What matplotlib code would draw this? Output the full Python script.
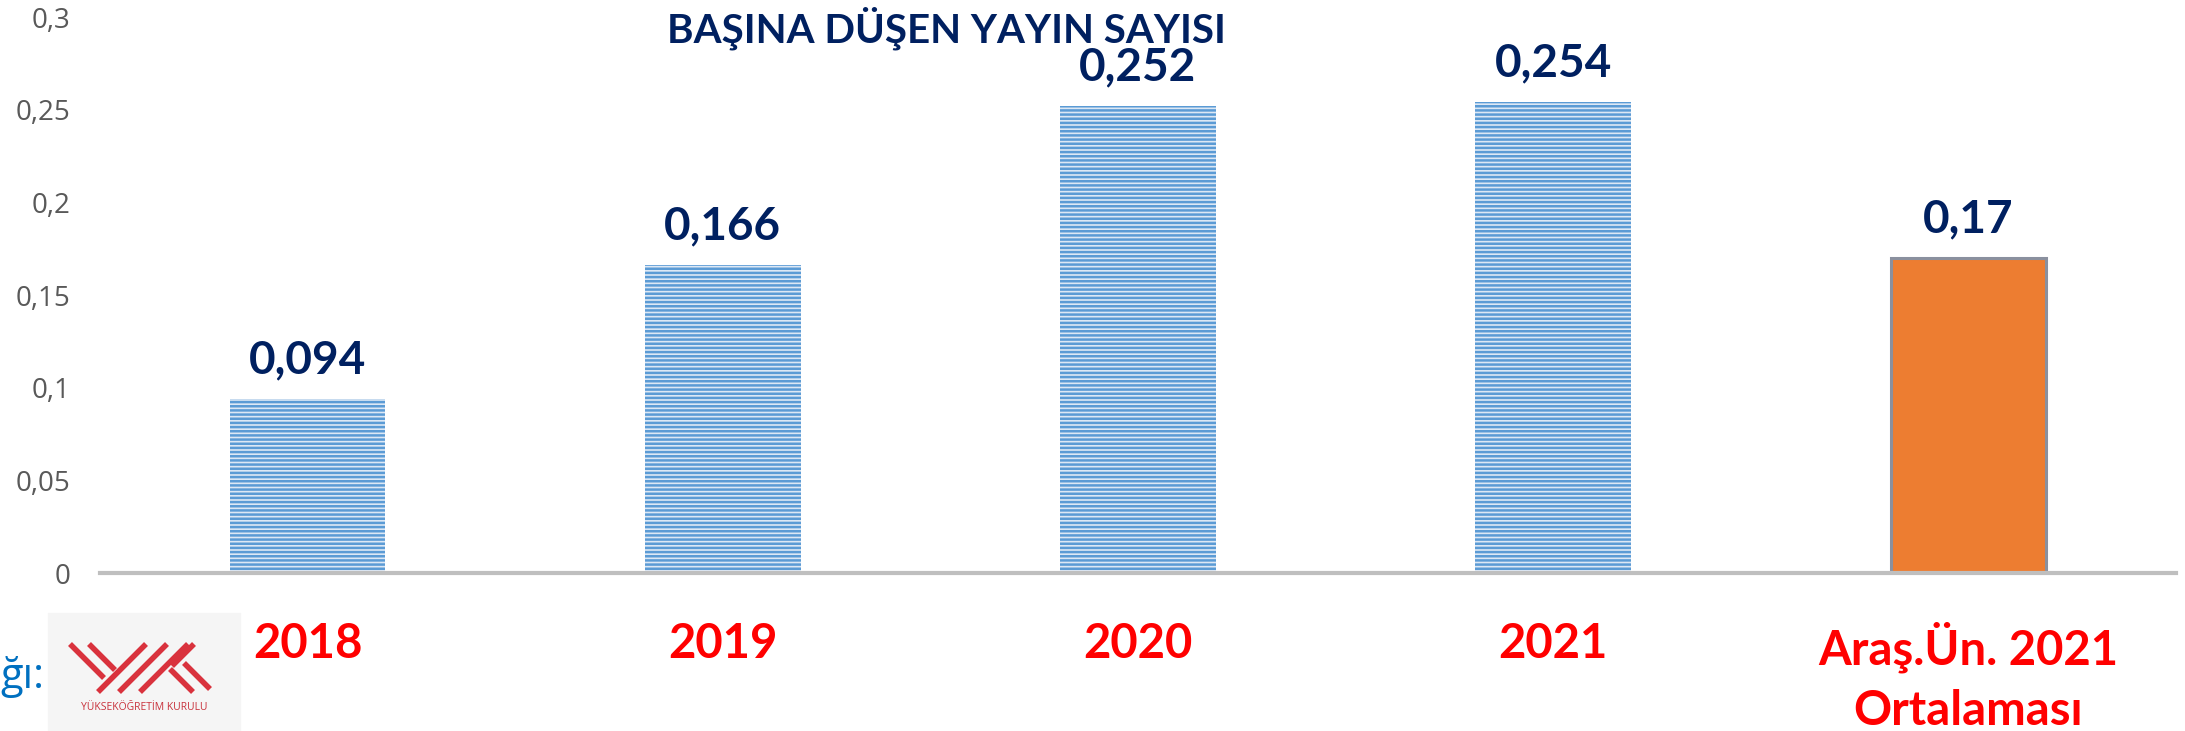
import matplotlib.pyplot as plt
from matplotlib.patches import Rectangle
from matplotlib.lines import Line2D

# data
categories = ["2018", "2019", "2020", "2021", "Araş.Ün. 2021\nOrtalaması"]
values = [0.094, 0.166, 0.252, 0.254, 0.17]
yticks = [0, 0.05, 0.1, 0.15, 0.2, 0.25, 0.3]
ytick_labels = ["0", "0,05", "0,1", "0,15", "0,2", "0,25", "0,3"]
title = "BAŞINA DÜŞEN YAYIN SAYISI"

W, H = 2185, 731
plt.rcParams['hatch.linewidth'] = 1.8

fig = plt.figure(figsize=(W / 100, H / 100), dpi=100)
ax = fig.add_axes([100 / W, 1 - 573 / H, 2076 / W, (573 - 17) / H])

x = range(len(categories))
colors = ['#dde8f5'] * 4 + ['#ed7d31']
bars = ax.bar(x, values, width=0.375, color=colors, zorder=2)
for b in bars[:4]:
    b.set_hatch('----')
    b.set_edgecolor('#5b9bd5')
    b.set_linewidth(0)
bars[4].set_edgecolor('#8a909e')
bars[4].set_linewidth(2.2)

# value labels
for i, v in enumerate(values):
    ax.annotate(f"{v:g}".replace('.', ','), (i, v), xytext=(0, 18.5),
                textcoords='offset points', ha='center', va='baseline',
                fontsize=33, fontweight='bold', color='#002060', family='Lato')

ax.set_xlim(-0.5, 4.5)
ax.set_ylim(0, 0.3)
ax.set_yticks(yticks)
ax.set_yticklabels(ytick_labels, fontsize=20, color='#595959', family='Open Sans')
ax.set_xticks(list(x))
ax.set_xticklabels(categories, fontsize=34, fontweight='bold', color='#ff0000',
                   family='Lato', linespacing=1.45)
ax.tick_params(axis='y', length=0, pad=21)
ax.tick_params(axis='x', length=0, pad=35)
for s in ['top', 'right', 'left']:
    ax.spines[s].set_visible(False)
ax.spines['bottom'].set_color('#bfbfbf')
ax.spines['bottom'].set_linewidth(3)

fig.text(946 / W, 1 - 42 / H, title, ha='center', va='baseline', fontsize=29,
         fontweight='bold', color='#002060', family='Lato')

# cropped source text and logo at bottom left
fig.text(0, 1 - 688 / H, "ğı:", ha='left', va='baseline', fontsize=30,
         color='#0070c0', family='Open Sans')
fig.patches.append(Rectangle((48 / W, 0), 192 / W, (731 - 613) / H,
                             transform=fig.transFigure, color='#f5f5f5', zorder=0))
lx, ly, lw, lh = 70, 692, 140, 48
segs = [((0, 48), (34, 14)), ((19, 48), (45, 22)),
        ((28, 0), (76, 48)), ((49, 0), (97, 48)), ((70, 0), (118, 48)),
        ((102, 26), (124, 48)), ((100, 23), (123, 0)), ((114, 29), (140, 3))]
for (x0, y0), (x1, y1) in segs:
    fig.lines.append(Line2D([(lx + x0) / W, (lx + x1) / W],
                            [(H - ly + y0) / H, (H - ly + y1) / H],
                            transform=fig.transFigure, color='#d9323d', lw=4,
                            solid_capstyle='butt'))
fig.text(144 / W, 1 - 707 / H, "YÜKSEKÖĞRETİM KURULU", ha='center', va='center',
         fontsize=7.5, color='#c8323c', family='Open Sans')

fig.savefig('out.png', dpi=100)
